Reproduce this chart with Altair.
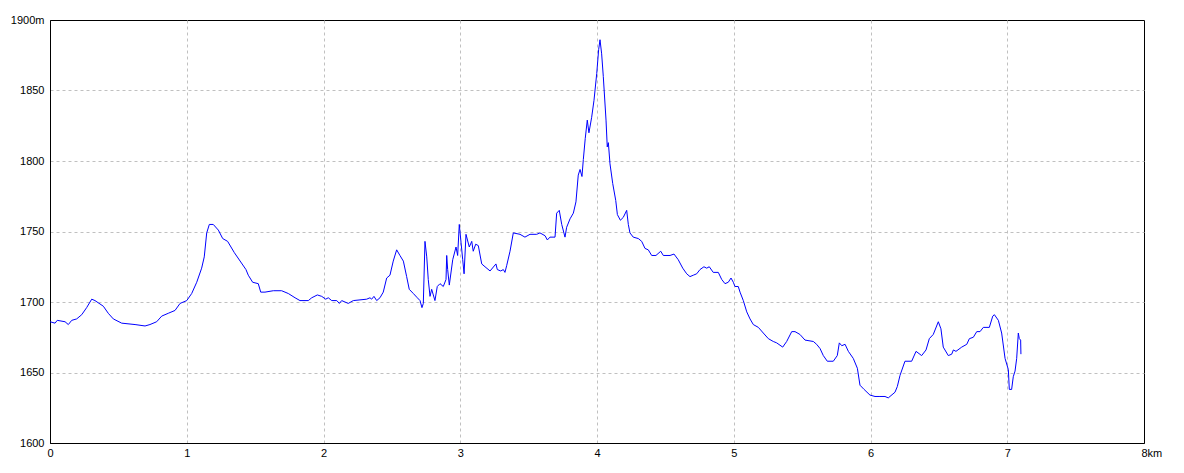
import altair as alt
import pandas as pd

# Distance along route (km) and elevation (m)
dist_km = [
    0.000, 0.037, 0.053, 0.110, 0.134, 0.159, 0.195, 0.232, 0.268, 0.305,
    0.329, 0.390, 0.426, 0.463, 0.524, 0.622, 0.695, 0.731, 0.780, 0.817,
    0.865, 0.914, 0.951, 1.000, 1.036, 1.073, 1.109, 1.128, 1.146, 1.165,
    1.194, 1.231, 1.263, 1.299, 1.348, 1.433, 1.450, 1.482, 1.523, 1.541,
    1.572, 1.633, 1.694, 1.743, 1.792, 1.828, 1.889, 1.914, 1.955, 1.987,
    2.016, 2.035, 2.060, 2.097, 2.116, 2.133, 2.157, 2.181, 2.218, 2.316,
    2.340, 2.352, 2.369, 2.389, 2.413, 2.437, 2.462, 2.486, 2.510, 2.535,
    2.559, 2.584, 2.608, 2.627, 2.657, 2.686, 2.706, 2.720, 2.730, 2.742,
    2.755, 2.766, 2.779, 2.791, 2.803, 2.815, 2.832, 2.852, 2.876, 2.896,
    2.901, 2.908, 2.920, 2.945, 2.969, 2.981, 2.993, 3.006, 3.018, 3.028,
    3.042, 3.066, 3.084, 3.095, 3.113, 3.132, 3.157, 3.181, 3.218, 3.261,
    3.271, 3.296, 3.315, 3.327, 3.340, 3.364, 3.388, 3.437, 3.473, 3.510,
    3.559, 3.583, 3.620, 3.637, 3.656, 3.693, 3.705, 3.724, 3.742, 3.766,
    3.778, 3.803, 3.827, 3.846, 3.863, 3.876, 3.890, 3.900, 3.914, 3.929,
    3.941, 3.961, 3.978, 3.998, 4.012, 4.022, 4.034, 4.046, 4.066, 4.075,
    4.083, 4.095, 4.115, 4.137, 4.149, 4.171, 4.192, 4.217, 4.229, 4.241,
    4.265, 4.302, 4.327, 4.351, 4.375, 4.400, 4.431, 4.466, 4.485, 4.534,
    4.563, 4.594, 4.627, 4.656, 4.680, 4.704, 4.729, 4.753, 4.782, 4.802,
    4.821, 4.850, 4.887, 4.912, 4.936, 4.960, 4.980, 4.997, 5.009, 5.033,
    5.046, 5.070, 5.095, 5.119, 5.143, 5.180, 5.216, 5.253, 5.289, 5.314,
    5.358, 5.387, 5.424, 5.448, 5.484, 5.521, 5.582, 5.606, 5.631, 5.655,
    5.684, 5.728, 5.757, 5.772, 5.790, 5.814, 5.838, 5.874, 5.904, 5.923,
    5.953, 5.996, 6.033, 6.069, 6.106, 6.130, 6.179, 6.196, 6.216, 6.252,
    6.301, 6.333, 6.374, 6.406, 6.430, 6.459, 6.496, 6.515, 6.532, 6.569,
    6.594, 6.606, 6.625, 6.667, 6.704, 6.723, 6.752, 6.777, 6.801, 6.825,
    6.869, 6.894, 6.906, 6.935, 6.959, 6.984, 7.008, 7.015, 7.032, 7.044,
    7.057, 7.069, 7.081, 7.088, 7.098, 7.100,
]
elev_m = [
    1686, 1685, 1687, 1686, 1684, 1687, 1688, 1691, 1696, 1702,
    1701, 1697, 1692, 1688, 1685, 1684, 1683, 1684, 1686, 1690,
    1692, 1694, 1699, 1701, 1706, 1714, 1724, 1732, 1749, 1755,
    1755, 1751, 1745, 1743, 1735, 1723, 1719, 1714, 1713, 1707,
    1707, 1708, 1708, 1706, 1703, 1701, 1701, 1703, 1705, 1704,
    1702, 1703, 1701, 1701, 1699, 1701, 1700, 1699, 1701, 1702,
    1703, 1702, 1704, 1701, 1703, 1707, 1717, 1719, 1729, 1737,
    1733, 1729, 1718, 1709, 1706, 1703, 1701, 1696, 1699, 1743,
    1732, 1716, 1704, 1709, 1705, 1701, 1711, 1713, 1711, 1716,
    1733, 1723, 1712, 1730, 1739, 1733, 1755, 1742, 1730, 1720,
    1748, 1739, 1743, 1736, 1741, 1740, 1727, 1725, 1722, 1727,
    1723, 1722, 1723, 1721, 1726, 1736, 1749, 1748, 1746, 1748,
    1748, 1749, 1747, 1744, 1746, 1746, 1763, 1765, 1755, 1746,
    1753, 1759, 1763, 1771, 1790, 1794, 1789, 1801, 1816, 1829,
    1820, 1831, 1843, 1862, 1879, 1886, 1876, 1860, 1829, 1810,
    1813, 1798, 1784, 1772, 1762, 1758, 1760, 1765, 1755, 1749,
    1746, 1745, 1743, 1738, 1737, 1733, 1733, 1736, 1733, 1733,
    1734, 1730, 1724, 1720, 1718, 1719, 1720, 1723, 1725, 1724,
    1725, 1721, 1721, 1716, 1713, 1714, 1717, 1714, 1711, 1711,
    1707, 1701, 1693, 1688, 1684, 1682, 1678, 1674, 1672, 1671,
    1668, 1672, 1679, 1679, 1677, 1673, 1672, 1670, 1667, 1662,
    1658, 1658, 1662, 1671, 1669, 1670, 1665, 1660, 1653, 1641,
    1638, 1634, 1633, 1633, 1633, 1632, 1636, 1640, 1648, 1658,
    1658, 1665, 1662, 1666, 1674, 1677, 1686, 1681, 1668, 1662,
    1663, 1666, 1665, 1668, 1670, 1674, 1675, 1679, 1679, 1682,
    1682, 1690, 1691, 1687, 1678, 1660, 1652, 1638, 1638, 1647,
    1651, 1660, 1678, 1674, 1673, 1663,
]

x_ticks = [0, 1, 2, 3, 4, 5, 6, 7, 8]
y_ticks = [1600, 1650, 1700, 1750, 1800, 1850, 1900]

df = pd.DataFrame({"km": dist_km, "m": elev_m})

FONT = "Liberation Sans"

x_axis = alt.Axis(
    values=x_ticks,
    title=None,
    grid=True,
    gridColor="#c0c0c0",
    gridDash=[3, 3],
    gridWidth=1,
    gridOpacity={"condition": {"test": "datum.value == 0 || datum.value == 8", "value": 0}, "value": 1},
    domainColor="#000000",
    domainWidth=1,
    ticks=False,
    labelFont=FONT,
    labelFontSize=11,
    labelColor="#000000",
    labelPadding=4,
    labelFlush=False,
    labelExpr="datum.value == 8 ? '8km' : datum.label",
    labelAlign={"condition": {"test": "datum.value == 8", "value": "left"}, "value": "center"},
    labelOffset={"condition": {"test": "datum.value == 8", "value": -3}, "value": 0},
)

y_axis = alt.Axis(
    values=y_ticks,
    title=None,
    grid=True,
    gridColor="#c0c0c0",
    gridDash=[3, 3],
    gridWidth=1,
    gridOpacity={"condition": {"test": "datum.value == 1600 || datum.value == 1900", "value": 0}, "value": 1},
    domainColor="#000000",
    domainWidth=1,
    ticks=False,
    labelFont=FONT,
    labelFontSize=11,
    labelColor="#000000",
    labelPadding=6,
    labelFlush=False,
    labelExpr="datum.value == 1900 ? '1900m' : datum.label",
    format="d",
)

chart = (
    alt.Chart(df)
    .mark_line(color="#0000ff", strokeWidth=1)
    .encode(
        x=alt.X("km:Q", scale=alt.Scale(domain=[0, 8], nice=False, zero=False), axis=x_axis),
        y=alt.Y("m:Q", scale=alt.Scale(domain=[1600, 1900], nice=False, zero=False), axis=y_axis),
    )
    .properties(
        width=1094,
        height=423,
        autosize=alt.AutoSizeParams(type="none"),
        padding={"left": 42, "top": 12, "right": 30, "bottom": 20},
        background="#ffffff",
    )
    .configure_view(stroke="#000000", strokeWidth=1)
)

chart.save("out.html", embed_options={"renderer": "svg", "actions": False})
